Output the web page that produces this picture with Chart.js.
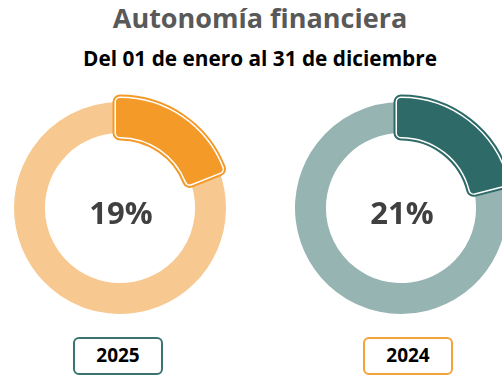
<!DOCTYPE html>
<html>
<head>
<meta charset="utf-8">
<script src="https://cdn.jsdelivr.net/npm/chart.js@4/dist/chart.umd.min.js"></script>
<style>
  html, body { margin: 0; padding: 0; background: #ffffff; }
  #page { position: relative; width: 502px; height: 377px; overflow: hidden; font-family: "Open Sans", sans-serif; }
  .title { position: absolute; left: 0; width: 520px; text-align: center; font-weight: 700; white-space: nowrap; }
  #t1 { top: 2px; font-size: 27px; line-height: 32px; color: #595959; }
  #t2 { top: 45px; font-size: 20.8px; line-height: 26px; color: #000000; }
  .ring { position: absolute; top: 90px; width: 240px; height: 236px; }
  .year { position: absolute; top: 337px; width: 90px; height: 38px; box-sizing: border-box; border: 2px solid; border-radius: 6px;
          text-align: center; font-weight: 700; font-size: 19px; line-height: 33px; color: #000000; background: #ffffff; }
</style>
</head>
<body>
<div id="page">
  <div class="title" id="t1">Autonomía financiera</div>
  <div class="title" id="t2">Del 01 de enero al 31 de diciembre</div>
  <div class="ring" style="left:0px"><canvas id="c0" width="240" height="236"></canvas></div>
  <div class="ring" style="left:281px"><canvas id="c1" width="240" height="236"></canvas></div>
  <div class="year" id="y0" style="left:73px; border-color:#3a7471"></div>
  <div class="year" id="y1" style="left:363px; border-color:#f3a23c"></div>
</div>
<script>
// Autonomía financiera por año (porcentaje)
const years = ['2025', '2024'];
const autonomy = [19, 21];
const remainder = autonomy.map(v => 100 - v);
const yearLabels = ['2025', '2024'];

// Colores de cada anillo: tono fuerte para el porcentaje, tono claro para el resto
const strongColors = ['#f39a29', '#2e6b68'];
const lightColors = ['#f7c991', '#95b4b2'];

// Dibuja el segmento destacado con contorno doble y la etiqueta central
const highlightPlugin = {
  id: 'highlight',
  afterDatasetsDraw(chart, args, opts) {
    const ctx = chart.ctx;
    const arc = chart.getDatasetMeta(0).data[0];
    const base = arc.options;
    const layers = [
      { backgroundColor: opts.color, borderColor: opts.color, borderWidth: 15, borderJoinStyle: 'round' },
      { backgroundColor: '#ffffff', borderColor: '#ffffff', borderWidth: 11, borderJoinStyle: 'round' },
      { backgroundColor: opts.color, borderColor: opts.color, borderWidth: 8, borderJoinStyle: 'round' }
    ];
    layers.forEach(layer => {
      arc.options = Object.assign({}, base, layer);
      arc.draw(ctx);
    });
    arc.options = base;

    ctx.save();
    ctx.font = '700 31px "Open Sans", sans-serif';
    ctx.fillStyle = '#404040';
    ctx.textAlign = 'center';
    ctx.textBaseline = 'middle';
    ctx.fillText(chart.data.datasets[0].data[0] + '%', arc.x + 1, arc.y + 7);
    ctx.restore();
  }
};

years.forEach((year, i) => {
  new Chart(document.getElementById('c' + i), {
    type: 'doughnut',
    data: {
      labels: ['Autonomía', 'Resto'],
      datasets: [{
        data: [autonomy[i], remainder[i]],
        backgroundColor: [strongColors[i], lightColors[i]],
        borderWidth: 0
      }]
    },
    options: {
      responsive: false,
      animation: false,
      events: [],
      radius: 106,
      cutout: '70.8%',
      layout: { padding: 0 },
      plugins: {
        legend: { display: false },
        tooltip: { enabled: false },
        highlight: { color: strongColors[i] }
      }
    },
    plugins: [highlightPlugin]
  });
  document.getElementById('y' + i).textContent = yearLabels[i];
});
</script>
</body>
</html>
